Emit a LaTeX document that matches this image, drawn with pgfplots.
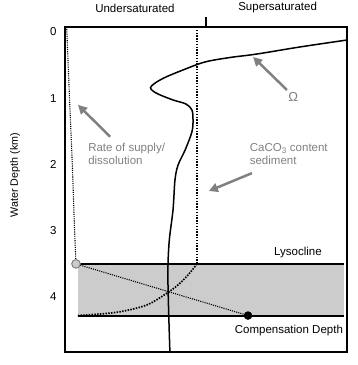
\documentclass[border=0pt]{standalone}
\usepackage{fontspec}
\setmainfont{Liberation Sans}
\usepackage{pgfplots}
\pgfplotsset{compat=1.18}
\usetikzlibrary{arrows.meta}
\definecolor{txtgray}{RGB}{128,128,128}
\definecolor{shade}{RGB}{204,204,204}
\begin{document}
\begin{tikzpicture}[font=\fontsize{11.5bp}{13bp}\selectfont]
\useasboundingbox (0,0) rectangle (358bp,365bp);
\begin{axis}[
  at={(65bp,13bp)}, anchor=south west,
  scale only axis, width=282bp, height=325bp,
  xmin=0, xmax=1, ymin=-0.0755, ymax=4.83,
  y dir=reverse,
  xtick=\empty,
  ytick={0,1,2,3,4},
  major tick length=0pt,
  yticklabel style={xshift=-5bp},
  /pgf/number format/assume math mode=true,
  axis line style={line width=1.6bp},
  clip=false,
]
% shaded zone
\addplot[fill=shade, draw=none] coordinates {(0.046,3.5) (0.989,3.5) (0.989,4.28) (0.046,4.28)} -- cycle;
\addplot[line width=2bp] coordinates {(0.046,3.5) (0.989,3.5)};
\addplot[line width=2bp] coordinates {(0.046,4.28) (0.989,4.28)};
% Omega
\addplot[line width=1.5bp, smooth, tension=0.55] coordinates {
(1.0,0.121) (0.833,0.226) (0.681,0.332) (0.585,0.385) (0.496,0.453)
(0.418,0.574) (0.355,0.685) (0.318,0.775) (0.303,0.84) (0.312,0.89)
(0.332,0.94) (0.383,1.026) (0.429,1.087) (0.450,1.177) (0.454,1.328)
(0.450,1.509) (0.426,1.781) (0.401,2.008) (0.390,2.234) (0.383,2.687)
(0.369,3.185) (0.365,3.743) (0.372,4.83)};
% CaCO3 content
\addplot[line width=1.7bp, dash pattern=on 1.5bp off 1.3bp] coordinates {(0.468,-0.0755) (0.468,3.5)};
\addplot[line width=1.7bp, dash pattern=on 1.5bp off 1.3bp, smooth, tension=0.5] coordinates {
(0.468,3.5) (0.44,3.65) (0.408,3.79) (0.369,3.92) (0.29,4.12) (0.184,4.23) (0.046,4.28)};
% Rate of supply / dissolution
\addplot[line width=1.1bp, dash pattern=on 1.1bp off 1.1bp] coordinates {(0.006,-0.0755) (0.016,1) (0.026,2) (0.034,3) (0.039,3.5)};
\addplot[line width=1.1bp, dash pattern=on 1.1bp off 1.1bp] coordinates {(0.039,3.5) (0.649,4.28)};
\addplot[only marks, mark=*, mark size=4.3bp, mark options={fill=shade, draw=txtgray, line width=1bp}] coordinates {(0.039,3.5)};
\addplot[only marks, mark=*, mark size=4bp, mark options={fill=black, draw=black}] coordinates {(0.649,4.28)};
% top labels and tick
\draw[line width=1.5bp] (axis cs:0.5,-0.0755) -- (axis cs:0.5,-0.226);
\node at (axis cs:0.248,-0.362) {Undersaturated};
\node at (axis cs:0.754,-0.362) {Supersaturated};
% annotations
\draw[txtgray, line width=2.5bp, -{Triangle[length=9bp,width=9bp]}] (axis cs:0.787,0.875) -- (axis cs:0.667,0.377);
\node[txtgray, font=\fontsize{13bp}{14bp}\selectfont] at (axis cs:0.809,0.98) {Ω};
\draw[txtgray, line width=2.5bp, -{Triangle[length=9bp,width=9bp]}] (axis cs:0.16,1.58) -- (axis cs:0.046,1.10);
\node[txtgray, anchor=west, align=left] at (axis cs:0.07,1.84) {Rate of supply/\\dissolution};
\draw[txtgray, line width=2.5bp, -{Triangle[length=9bp,width=9bp]}] (axis cs:0.663,2.13) -- (axis cs:0.51,2.40);
\node[txtgray, anchor=west, align=left] at (axis cs:0.643,1.84) {CaCO\textsubscript{3} content\\sediment};
\node at (axis cs:0.826,3.335) {Lysocline};
\node at (axis cs:0.794,4.51) {Compensation Depth};
\node[rotate=90, font=\fontsize{10.7bp}{12bp}\selectfont] at (axis cs:-0.177,2.16) {Water Depth (km)};
\end{axis}
\end{tikzpicture}
\end{document}
